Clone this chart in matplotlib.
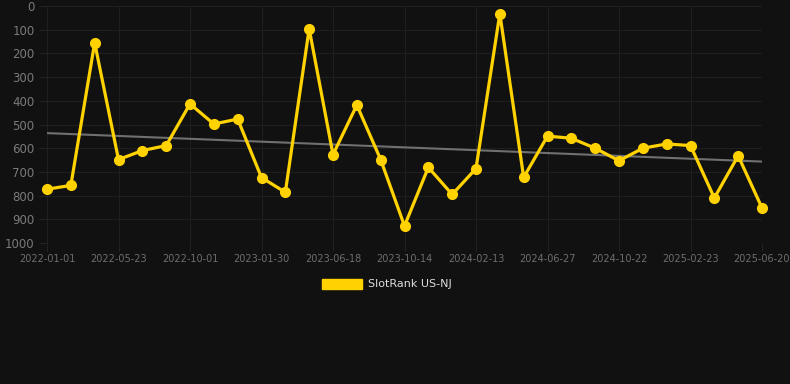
import numpy as np
import matplotlib.pyplot as plt
from matplotlib.patches import Patch

# rank per sample (lower is better)
ranks = [773, 757, 155, 648, 610, 589, 413, 498, 477, 724, 786, 96, 627, 418, 648,
         928, 681, 795, 686, 32, 723, 549, 558, 600, 653, 600, 582, 589, 810, 632, 852]
tick_labels = ['2022-01-01', '2022-05-23', '2022-10-01', '2023-01-30', '2023-06-18',
               '2023-10-14', '2024-02-13', '2024-06-27', '2024-10-22', '2025-02-23',
               '2025-06-20']
y_ticks = [0, 100, 200, 300, 400, 500, 600, 700, 800, 900, 1000]

BG = '#111111'
GOLD = '#FFD200'

x = np.arange(len(ranks))

fig = plt.figure(figsize=(7.9, 3.84), dpi=100, facecolor=BG)
ax = fig.add_axes([47 / 790, 1 - 243 / 384, 715 / 790, 237 / 384], facecolor=BG)

# linear trend
coef = np.polyfit(x, ranks, 1)
ax.plot(x[[0, -1]], np.polyval(coef, x[[0, -1]]), color='#707070', lw=1.5, zorder=2)

ax.plot(x, ranks, color=GOLD, lw=2.3, marker='o', markersize=7,
        solid_joinstyle='miter', clip_on=False, zorder=3)

ax.set_xlim(0, len(ranks) - 1)
ax.set_ylim(1000, 0)
ax.set_xticks(x[::3])
ax.set_xticklabels(tick_labels)
ax.set_yticks(y_ticks)

ax.grid(True, color='#1f1f1f', lw=0.8)
for s in ax.spines.values():
    s.set_visible(False)
ax.tick_params(axis='y', colors='#222222', labelcolor='#7a7a7a', labelsize=8.5,
               length=6, pad=3)
ax.tick_params(axis='x', colors='#222222', labelcolor='#6e6e6e', labelsize=7,
               length=6, pad=2)

fig.legend(handles=[Patch(facecolor=GOLD, edgecolor=GOLD)], labels=['SlotRank US-NJ'],
           loc='center', bbox_to_anchor=(0.49, 1 - 284 / 384), frameon=False,
           fontsize=8, labelcolor='#dddddd', handlelength=3.6, handleheight=1.0,
           handletextpad=0.5)

plt.savefig('out.png', dpi=100, facecolor=BG)
